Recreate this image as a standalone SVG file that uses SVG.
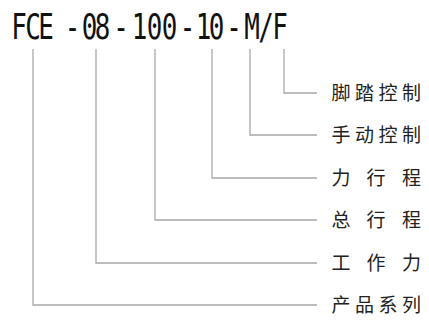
<svg xmlns="http://www.w3.org/2000/svg" width="429" height="324" viewBox="0 0 429 324">
<style>
.title{font-family:"DejaVu Sans Mono","Liberation Mono",monospace;font-size:36px;fill:#111;text-anchor:middle}
.lbl{font-family:"Noto Sans CJK SC","Noto Sans CJK JP",sans-serif;font-size:19px;fill:#222;text-anchor:middle}
.conn{fill:none;stroke:#a8a8a8;stroke-width:1.3}
</style>
<rect width="429" height="324" fill="#ffffff"/>
<g id="title">
<text class="title" transform="scale(0.72,1)" y="39" x="26.39 45.83 63.89 81.94 100.69 124.31 142.36 168.06 193.75 214.58 235.42 260.42 282.64 300.69 325 350 369.44 388.89">FCE -08-100-10-M/F</text>
</g>
<g id="connectors">
<polyline class="conn" points="284,49 284,93 317,93"/>
<polyline class="conn" points="250,49 250,135 317,135"/>
<polyline class="conn" points="212,49 212,178 317,178"/>
<polyline class="conn" points="155,49 155,220 317,220"/>
<polyline class="conn" points="96,49 96,263 317,263"/>
<polyline class="conn" points="33,49 33,305 317,305"/>
</g>
<g id="n-jiaota"><text class="lbl" y="100" x="341 364.5 388 411.5">脚踏控制</text></g>
<g id="n-shoudong"><text class="lbl" y="142" x="341 364.5 388 411.5">手动控制</text></g>
<g id="n-lixingcheng"><text class="lbl" y="185" x="341 358.5 376 393.5 411.5" xml:space="preserve">力 行 程</text></g>
<g id="n-zongxingcheng"><text class="lbl" y="227" x="341 358.5 376 393.5 411.5" xml:space="preserve">总 行 程</text></g>
<g id="n-gongzuoli"><text class="lbl" y="270" x="341 358.5 376 393.5 411.5" xml:space="preserve">工 作 力</text></g>
<g id="n-chanpin"><text class="lbl" y="312" x="341 364.5 388 411.5">产品系列</text></g>
</svg>
